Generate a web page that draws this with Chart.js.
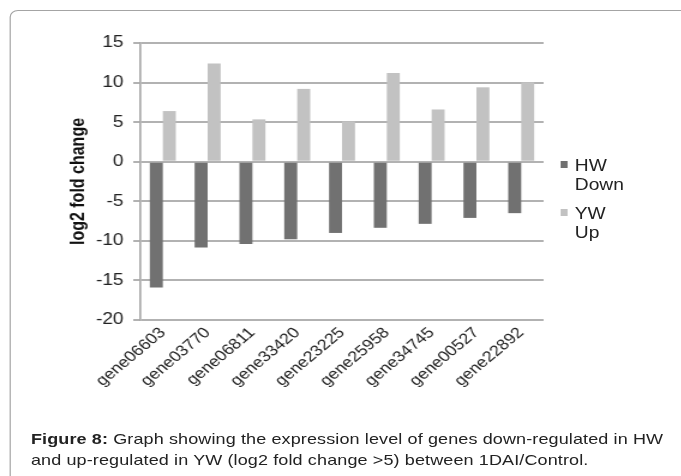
<!DOCTYPE html>
<html>
<head>
<meta charset="utf-8">
<script src="https://cdn.jsdelivr.net/npm/chart.js@4/dist/chart.umd.min.js"></script>
<style>
  html, body { margin: 0; padding: 0; width: 681px; height: 476px; overflow: hidden; background: #fff; }
  /* the reference figure is horizontally stretched; reproduce that with one scale on the whole page */
  #page { position: absolute; left: 0; top: 0; width: 568px; height: 476px;
          transform: scaleX(1.2); transform-origin: 0 0; }
  #frame { position: absolute; left: 7.5px; top: 10px; width: 620px; height: 520px;
           border: 1.5px solid #a4a4a4; border-radius: 7px; box-sizing: border-box; }
  #c { position: absolute; left: 0; top: 0; }
  #legend { position: absolute; left: 466.5px; top: 156px; font-family: "Liberation Sans", Arial, sans-serif;
            font-size: 16px; line-height: 19px; color: #222; }
  .item { position: relative; padding-left: 12.5px; margin-bottom: 10px; }
  .sw { position: absolute; left: 0; top: 5px; width: 6px; height: 7px; }
  #caption { position: absolute; left: 25.8px; top: 428px; font-family: "Liberation Sans", Arial, sans-serif;
             font-size: 15px; letter-spacing: 0.1px; line-height: 21px; color: #222; white-space: nowrap; }
</style>
</head>
<body>
<div id="page">
  <div id="frame"></div>
  <canvas id="c" width="568" height="476"></canvas>
  <div id="legend"></div>
  <div id="caption"><b>Figure 8:</b> Graph showing the expression level of genes down-regulated in HW<br>and up-regulated in YW (log2 fold change &gt;5) between 1DAI/Control.</div>
</div>
<script>
const categories = ['gene06603','gene03770','gene06811','gene33420','gene23225','gene25958','gene34745','gene00527','gene22892'];
const hwDown = [-15.9, -10.85, -10.4, -9.8, -9.0, -8.35, -7.85, -7.1, -6.5];
const ywUp = [6.4, 12.4, 5.35, 9.2, 5.1, 11.2, 6.6, 9.4, 10.05];
const seriesNames = ['HW Down', 'YW Up'];
const yTickValues = [-20, -15, -10, -5, 0, 5, 10, 15];
const yTitle = 'log2 fold change';

const colors = ['#717171', '#c2c2c2'];
const FONT = '"Liberation Sans", Arial, sans-serif';

const chart = new Chart(document.getElementById('c'), {
  type: 'bar',
  data: {
    labels: categories,
    datasets: [
      { label: seriesNames[0], data: hwDown, backgroundColor: colors[0], borderWidth: 0 },
      { label: seriesNames[1], data: ywUp, backgroundColor: colors[1], borderWidth: 0 }
    ]
  },
  options: {
    responsive: false,
    animation: false,
    devicePixelRatio: 1,
    categoryPercentage: 0.58,
    barPercentage: 1.0,
    layout: { padding: { left: 52, top: 43, right: 115, bottom: 76 } },
    plugins: { legend: { display: false }, tooltip: { enabled: false } },
    scales: {
      x: {
        grid: { display: false, drawTicks: false },
        border: { display: false },
        ticks: { maxRotation: 45, minRotation: 45, padding: 4, color: '#222',
                 font: { family: FONT, size: 15 } },
        afterFit: (s) => { s.height = 80; }
      },
      y: {
        min: yTickValues[0],
        max: yTickValues[yTickValues.length - 1],
        afterBuildTicks: (s) => { s.ticks = yTickValues.map(v => ({ value: v })); },
        grid: { color: '#b2b2b2', lineWidth: 2, tickLength: 6, drawTicks: true },
        border: { display: true, color: '#a8a8a8', width: 1.7 },
        ticks: { padding: 8, color: '#222', font: { family: FONT, size: 16 } },
        title: { display: true, text: yTitle, color: '#111',
                 font: { family: FONT, size: 16, weight: 'bold' } },
        afterFit: (s) => { s.width = 65; }
      }
    }
  }
});

const leg = document.getElementById('legend');
chart.data.datasets.forEach((ds) => {
  const d = document.createElement('div');
  d.className = 'item';
  const sw = document.createElement('span');
  sw.className = 'sw';
  sw.style.background = ds.backgroundColor;
  d.appendChild(sw);
  ds.label.split(' ').forEach((w, i) => {
    if (i) d.appendChild(document.createElement('br'));
    d.appendChild(document.createTextNode(w));
  });
  leg.appendChild(d);
});
</script>
</body>
</html>
